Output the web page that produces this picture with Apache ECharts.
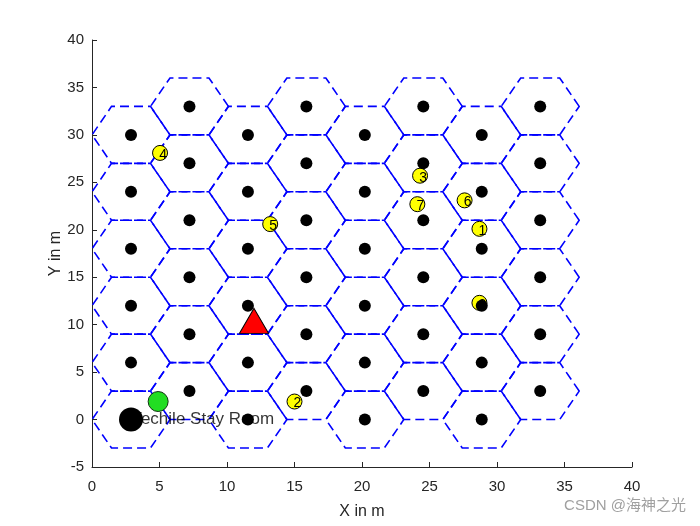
<!DOCTYPE html>
<html>
<head>
<meta charset="utf-8">
<script src="https://cdn.jsdelivr.net/npm/echarts@6/dist/echarts.min.js"></script>
<style>
  html, body { margin: 0; padding: 0; background: #fff; }
  #main { width: 700px; height: 526px; }
</style>
</head>
<body>
<div id="main"></div>
<script>
// hex cell centres (columns alternate between the two row sets)
var cellX = [2.89, 7.22, 11.55, 15.88, 20.21, 24.54, 28.87, 33.2];
var rowsEven = [0, 6, 12, 18, 24, 30];
var rowsOdd = [3, 9, 15, 21, 27, 33];

// users (numbered yellow markers)
var userIds = [1, 2, 3, 4, 5, 6, 7, 8];
var userX = [28.7, 15.0, 24.3, 5.04, 13.2, 27.6, 24.1, 28.7];
var userY = [20.1, 1.9, 25.7, 28.1, 20.6, 23.1, 22.7, 12.3];

var baseStation = [12.0, 10.4];
var greenPoint = [4.9, 1.9];
var stayRoom = [2.89, 0];
var stayRoomText = 'Vechile Stay Room';

var xTicks = [0, 40, 5];
var yTicks = [-5, 40, 5];

var cells = [];
for (var i = 0; i < cellX.length; i++) {
  var rows = i % 2 === 0 ? rowsEven : rowsOdd;
  for (var j = 0; j < rows.length; j++) {
    cells.push([cellX[i], rows[j]]);
  }
}

var users = [];
for (var k = 0; k < userIds.length; k++) {
  users.push({ value: [userX[k], userY[k]], name: String(userIds[k]) });
}

var hexHalfW = 2.887, hexHalfH = 3;

var chartDom = document.getElementById('main');
var myChart = echarts.init(chartDom);
var axisColor = '#262626';
var font = '"Liberation Sans", Arial, sans-serif';

var option = {
  animation: false,
  textStyle: { fontFamily: font },
  grid: { left: 92, right: 68, top: 40, bottom: 59 },
  xAxis: {
    type: 'value', min: xTicks[0], max: xTicks[1], interval: xTicks[2],
    name: 'X in m', nameLocation: 'middle', nameGap: 37, nameMoveOverlap: false,
    nameTextStyle: { color: axisColor, fontSize: 16, fontFamily: font },
    axisLine: { onZero: false, lineStyle: { color: axisColor, width: 1 } },
    axisTick: { inside: true, length: 5, lineStyle: { color: axisColor } },
    axisLabel: { color: axisColor, fontSize: 15, margin: 12, fontFamily: font },
    splitLine: { show: false }
  },
  yAxis: {
    type: 'value', min: yTicks[0], max: yTicks[1], interval: yTicks[2],
    name: 'Y in m', nameLocation: 'middle', nameGap: 28, nameMoveOverlap: false,
    nameTextStyle: { color: axisColor, fontSize: 16, fontFamily: font },
    axisLine: { onZero: false, lineStyle: { color: axisColor, width: 1 } },
    axisTick: { inside: true, length: 5, lineStyle: { color: axisColor } },
    axisLabel: { color: axisColor, fontSize: 15, margin: 8, fontFamily: font },
    splitLine: { show: false }
  },
  series: [
    {
      type: 'custom',
      data: cells,
      clip: false,
      renderItem: function (params, api) {
        var cx = api.value(0), cy = api.value(1);
        var pts = [
          api.coord([cx + hexHalfW, cy]),
          api.coord([cx + hexHalfW / 2, cy + hexHalfH]),
          api.coord([cx - hexHalfW / 2, cy + hexHalfH]),
          api.coord([cx - hexHalfW, cy]),
          api.coord([cx - hexHalfW / 2, cy - hexHalfH]),
          api.coord([cx + hexHalfW / 2, cy - hexHalfH])
        ];
        return {
          type: 'polygon',
          shape: { points: pts },
          style: { fill: null, stroke: '#0000ff', lineWidth: 1.6, lineDash: [9, 5] }
        };
      }
    },
    {
      type: 'scatter',
      data: users,
      symbol: 'circle',
      symbolSize: 15,
      itemStyle: { color: '#ffff00', borderColor: '#000', borderWidth: 1, opacity: 1 },
      label: {
        show: true, formatter: '{b}', position: 'inside', offset: [3, 2],
        color: '#000', fontSize: 14, fontFamily: font
      }
    },
    {
      type: 'scatter',
      data: cells,
      symbol: 'circle',
      symbolSize: 12,
      itemStyle: { color: '#000', opacity: 1 }
    },
    {
      type: 'scatter',
      data: [baseStation],
      symbol: 'triangle',
      symbolSize: [29, 25],
      itemStyle: { color: '#ff0000', borderColor: '#000', borderWidth: 1, opacity: 1 }
    },
    {
      type: 'scatter',
      data: [greenPoint],
      symbol: 'circle',
      symbolSize: 20,
      itemStyle: { color: '#22dd22', borderColor: '#113311', borderWidth: 1, opacity: 1 }
    },
    {
      type: 'scatter',
      data: [{ value: stayRoom, name: stayRoomText }],
      symbolSize: 1,
      itemStyle: { color: 'rgba(0,0,0,0)' },
      label: {
        show: true, formatter: '{b}', position: [0, 0],
        align: 'left', verticalAlign: 'middle',
        color: '#000', fontSize: 17, fontFamily: font
      }
    },
    {
      type: 'scatter',
      zlevel: 1,
      data: [stayRoom],
      symbol: 'circle',
      symbolSize: 24,
      itemStyle: { color: '#000', opacity: 1 }
    }
  ],
  graphic: [
    {
      type: 'text', right: 14, top: 498,
      style: { text: 'CSDN @海神之光', fill: '#a0a0a0', fontSize: 15,
               fontFamily: '"Liberation Sans", "Noto Sans CJK SC", sans-serif' }
    }
  ]
};

option && myChart.setOption(option);
</script>
</body>
</html>
